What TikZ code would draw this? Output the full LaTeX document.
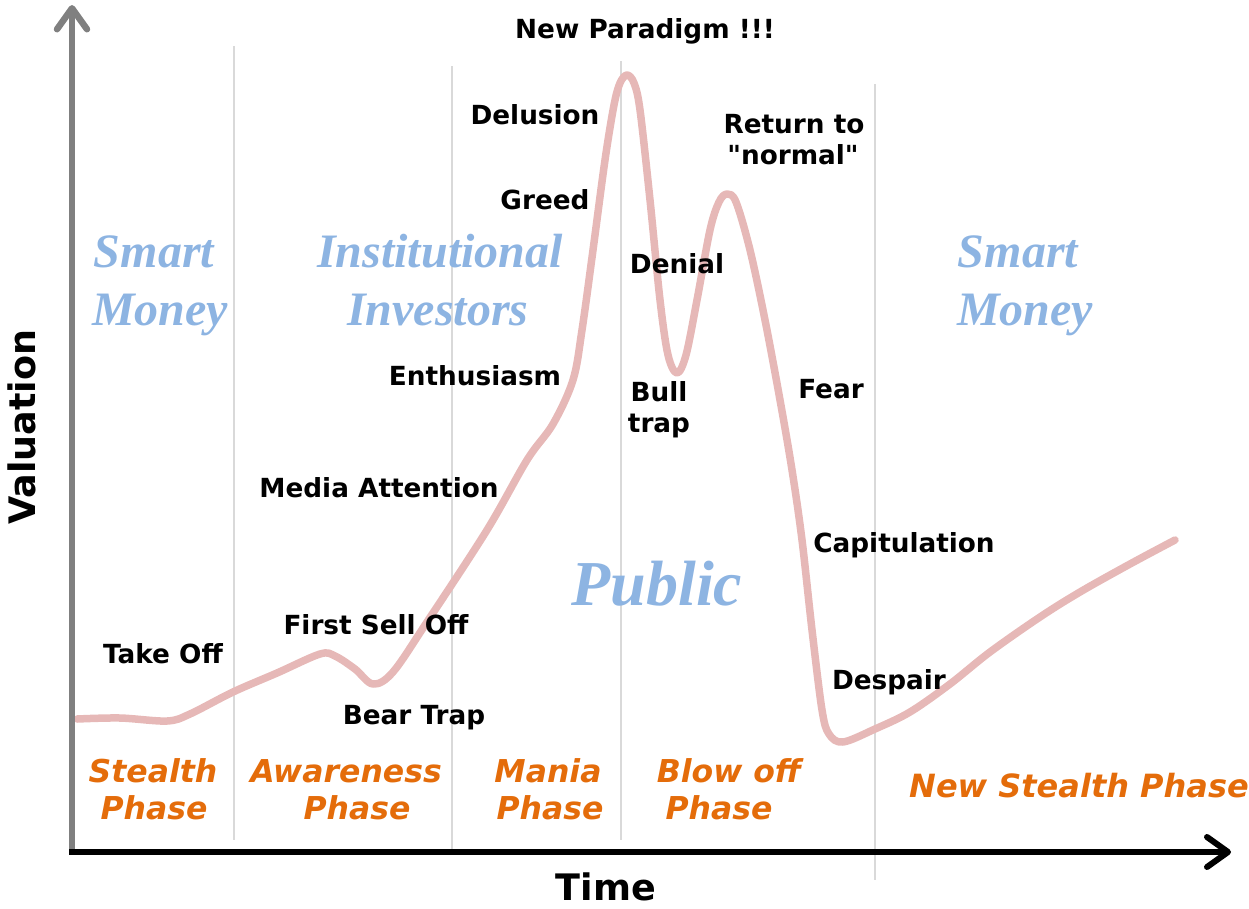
\documentclass[tikz,border=0pt]{standalone}
\usepackage{fontspec}
\setmainfont{DejaVu Sans}[Ligatures=TeXOff]
\newfontfamily\serifbi{Liberation Serif}
\usetikzlibrary{arrows.meta}
\definecolor{curvepink}{HTML}{E6B8B7}
\definecolor{phaseorange}{HTML}{E46C0A}
\definecolor{groupblue}{HTML}{8DB4E2}
\definecolor{sepgray}{HTML}{D9D9D9}
\definecolor{axisgray}{HTML}{808080}
\begin{document}
\begin{tikzpicture}[x=1pt,y=-1pt,
  lbl/.style={font=\fontsize{26.3}{31}\selectfont\bfseries, inner sep=0pt, anchor=base},
  phaselbl/.style={font=\fontsize{31.5}{37}\selectfont\bfseries\itshape, text=phaseorange, inner sep=0pt, anchor=base},
  grouplbl/.style={font=\serifbi\fontsize{48}{56}\selectfont\bfseries\itshape, text=groupblue, inner sep=0pt, anchor=base},
  axislbl/.style={font=\fontsize{36.5}{42}\selectfont\bfseries, inner sep=0pt, anchor=base},
  sepline/.style={draw=sepgray, line width=1.6pt},
  axisarrow/.style={line width=6.5pt, -{Straight Barb[length=21pt,width=30pt,round]}}
]
\useasboundingbox (0,0) rectangle (1249,908);

% separators
\coordinate (s1t) at (234,46);  \coordinate (s1b) at (234,840);
\coordinate (s2t) at (452,66);  \coordinate (s2b) at (452,850);
\coordinate (s3t) at (621,61);  \coordinate (s3b) at (621,840);
\coordinate (s4t) at (875,84);  \coordinate (s4b) at (875,880);
\draw[sepline] (s1t) -- (s1b);
\draw[sepline] (s2t) -- (s2b);
\draw[sepline] (s3t) -- (s3b);
\draw[sepline] (s4t) -- (s4b);

% curve
\draw[curvepink, line width=7.5pt, line cap=round, line join=round]
  plot[smooth, tension=0.55] coordinates {
  (77,719) (120,718) (167,721) (190,714) (233,692) (277,673) (320,654) (335,656)
  (355,669) (373,684) (393,672) (427,622) (487,530) (527,460) (553,424) (573,380)
  (582,330) (593,250) (605,160) (614,105) (620,83) (627,75) (634,83) (640,110)
  (650,200) (660,300) (668,355) (677,373) (686,355) (697,300) (710,230) (719,202)
  (727,194) (736,202) (750,250) (765,320) (780,400) (792,470) (802,540) (812,630)
  (822,710) (829,734) (843,742) (875,729) (910,712) (950,684) (990,652)
  (1040,617) (1080,592) (1130,564) (1175,540)};

% axes
\coordinate (yb) at (72,852); \coordinate (yt) at (72,5);
\coordinate (xb) at (69,852); \coordinate (xt) at (1231,852);
\draw[axisarrow, draw=axisgray] (yb) -- (yt);
\draw[axisarrow, draw=black, line width=6pt] (xb) -- (xt);

% axis labels
\node[axislbl] (time) at (606,900) {Time};
\node[axislbl, rotate=90] (val) at (35,427) {Valuation};

% black labels
\node[lbl] (np) at (645,38) {New Paradigm !!!};
\node[lbl] (del) at (535,124) {Delusion};
\node[lbl] (greed) at (545,209) {Greed};
\node[lbl] (ret1) at (794,133) {Return to};
\node[lbl] (ret2) at (793,164) {"normal"};
\node[lbl] (den) at (677,273) {Denial};
\node[lbl] (bull) at (659,401) {Bull};
\node[lbl] (trap) at (659,432) {trap};
\node[lbl] (fear) at (831,398) {Fear};
\node[lbl] (enth) at (475,385) {Enthusiasm};
\node[lbl] (media) at (379,497) {Media Attention};
\node[lbl] (fso) at (376,634) {First Sell Off};
\node[lbl] (take) at (163,663) {Take Off};
\node[lbl] (bear) at (414,724) {Bear Trap};
\node[lbl] (cap) at (904,552) {Capitulation};
\node[lbl] (desp) at (889,689) {Despair};

% phases
\node[phaselbl] (st1) at (153,782) {Stealth};
\node[phaselbl] (st2) at (154,819) {Phase};
\node[phaselbl] (aw1) at (346,782) {Awareness};
\node[phaselbl] (aw2) at (357,819) {Phase};
\node[phaselbl] (ma1) at (548,782) {Mania};
\node[phaselbl] (ma2) at (550,819) {Phase};
\node[phaselbl] (bo1) at (729,782) {Blow off};
\node[phaselbl] (bo2) at (719,819) {Phase};
\node[phaselbl, font=\fontsize{32}{37}\selectfont\bfseries\itshape] (nsp) at (1079,797) {New Stealth Phase};

% groups
\node[grouplbl] (sm1) at (154,267) {Smart};
\node[grouplbl] (sm2) at (160,325) {Money};
\node[grouplbl] (in1) at (440,267) {Institutional};
\node[grouplbl] (in2) at (438,325) {Investors};
\node[grouplbl] (sm3) at (1018,267) {Smart};
\node[grouplbl] (sm4) at (1025,325) {Money};
\node[grouplbl, font=\serifbi\fontsize{64}{70}\selectfont\bfseries\itshape] (pub) at (657,605) {Public};
\end{tikzpicture}
\end{document}
